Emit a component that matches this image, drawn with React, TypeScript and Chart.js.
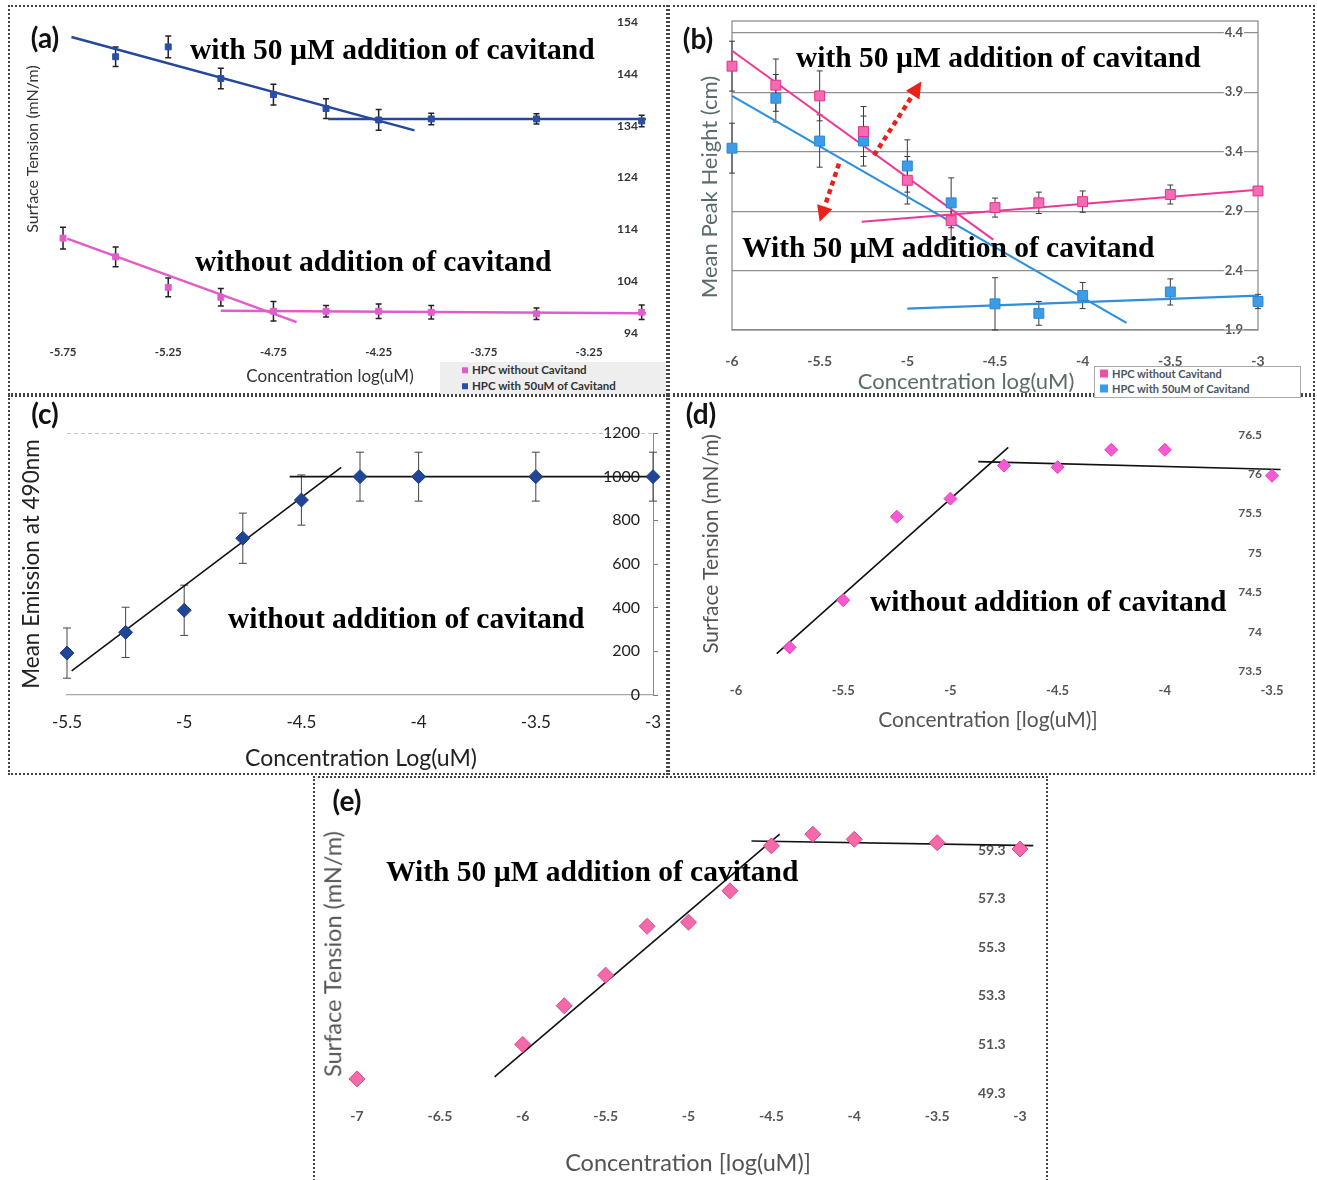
import React, { useEffect, useRef } from 'react';
import { Chart, registerables } from 'chart.js';

Chart.register(...registerables);

// ---------------- data: panel (a) ----------------
const aConcWithout = [-5.75, -5.5, -5.25, -5, -4.75, -4.5, -4.25, -4, -3.5, -3];
const aTensionWithout = [112.3, 108.7, 102.8, 100.9, 98.2, 98.2, 98.2, 98.0, 97.7, 98.0];
const aErrWithout = [2.1, 1.9, 1.8, 1.7, 1.9, 1.1, 1.4, 1.3, 1.1, 1.4];
const aConcWith = [-5.5, -5.25, -5, -4.75, -4.5, -4.25, -4, -3.5, -3];
const aTensionWith = [147.3, 149.2, 143.1, 140.0, 137.3, 135.1, 135.3, 135.3, 134.9];
const aErrWith = [1.9, 2.1, 2.0, 2.0, 1.9, 2.0, 1.1, 1.0, 1.1];
const aFitWithoutSlopeX = [-5.73, -4.64];
const aFitWithoutSlopeY = [112.2, 96.1];
const aFitWithoutFlatX = [-5.0, -2.98];
const aFitWithoutFlatY = [98.3, 97.8];
const aFitWithSlopeX = [-5.71, -4.08];
const aFitWithSlopeY = [151.1, 133.1];
const aFitWithFlatX = [-4.49, -2.98];
const aFitWithFlatY = [135.3, 135.3];
const aXTicks = [-5.75, -5.25, -4.75, -4.25, -3.75, -3.25];
const aYTicks = [94, 104, 114, 124, 134, 144, 154];

// ---------------- data: panel (b) ----------------
const bConc = [-6, -5.75, -5.5, -5.25, -5, -4.75, -4.5, -4.25, -4, -3.5, -3];
const bHeightWithout = [4.12, 3.96, 3.87, 3.57, 3.16, 2.82, 2.93, 2.97, 2.98, 3.04, 3.07];
const bErrWithout = [0.21, 0.22, 0.21, 0.21, 0.2, 0.16, 0.08, 0.09, 0.09, 0.08, 0.03];
const bHeightWith = [3.43, 3.85, 3.49, 3.49, 3.28, 2.97, 2.12, 2.04, 2.19, 2.22, 2.14];
const bErrWith = [0.21, 0.2, 0.22, 0.21, 0.22, 0.21, 0.22, 0.1, 0.11, 0.11, 0.06];
const bFitWithoutSlopeX = [-6, -4.51];
const bFitWithoutSlopeY = [4.25, 2.66];
const bFitWithoutFlatX = [-5.26, -3.0];
const bFitWithoutFlatY = [2.81, 3.08];
const bFitWithSlopeX = [-6, -3.75];
const bFitWithSlopeY = [3.87, 1.96];
const bFitWithFlatX = [-5, -3];
const bFitWithFlatY = [2.08, 2.19];
const bArrowTailX = [-5.19, -5.39];
const bArrowTailY = [3.37, 3.3];
const bArrowHeadX = [-4.92, -5.5];
const bArrowHeadY = [3.99, 2.81];
const bXTicks = [-6, -5.5, -5, -4.5, -4, -3.5, -3];
const bYTicks = [1.9, 2.4, 2.9, 3.4, 3.9, 4.4];

// ---------------- data: panel (c) ----------------
const cConc = [-5.5, -5.25, -5, -4.75, -4.5, -4.25, -4, -3.5, -3];
const cEmission = [192, 287, 388, 718, 893, 1000, 1000, 1000, 1000];
const cErr = [115, 115, 115, 115, 115, 112, 112, 112, 112];
const cFitSlopeX = [-5.48, -4.33];
const cFitSlopeY = [110, 1043];
const cFitFlatX = [-4.55, -3];
const cFitFlatY = [1000, 1000];
const cXTicks = [-5.5, -5, -4.5, -4, -3.5, -3];
const cYTicks = [0, 200, 400, 600, 800, 1000, 1200];

// ---------------- data: panel (d) ----------------
const dConc = [-5.75, -5.5, -5.25, -5, -4.75, -4.5, -4.25, -4, -3.5];
const dTension = [73.8, 74.4, 75.46, 75.69, 76.11, 76.09, 76.31, 76.31, 75.98];
const dFitSlopeX = [-5.81, -4.73];
const dFitSlopeY = [73.72, 76.34];
const dFitFlatX = [-4.87, -3.46];
const dFitFlatY = [76.16, 76.06];
const dXTicks = [-6, -5.5, -5, -4.5, -4, -3.5];
const dYTicks = [73.5, 74, 74.5, 75, 75.5, 76, 76.5];

// ---------------- data: panel (e) ----------------
const eConc = [-7, -6, -5.75, -5.5, -5.25, -5, -4.75, -4.5, -4.25, -4, -3.5, -3];
const eTension = [49.88, 51.3, 52.89, 54.15, 56.16, 56.33, 57.62, 59.47, 59.95, 59.74, 59.6, 59.34];
const eFitSlopeX = [-6.17, -4.45];
const eFitSlopeY = [49.96, 59.95];
const eFitFlatX = [-4.62, -2.92];
const eFitFlatY = [59.67, 59.48];
const eXTicks = [-7, -6.5, -6, -5.5, -5, -4.5, -4, -3.5, -3];
const eYTicks = [49.3, 51.3, 53.3, 55.3, 57.3, 59.3];

// ---------------- helpers ----------------
const SANS = 'Lato';
const SERIF = '"Liberation Serif", "Times New Roman", serif';
const X_BAND = 40; // fixed height of each x-axis band (labels live inside it)

const pts = (xs: number[], ys: number[]) => xs.map((x, i) => ({ x, y: ys[i] }));
const fixFit = (s: any) => {
  if (s.isHorizontal()) s.height = X_BAND;
  else s.width = 0;
  s.paddingLeft = 0;
  s.paddingRight = 0;
  s.paddingTop = 0;
  s.paddingBottom = 0;
};
const setTicks = (vals: number[]) => (s: any) => {
  s.ticks = vals.map((v) => ({ value: v }));
};
const fmt = (v: any) => String(v);

const fitLine = (xs: number[], ys: number[], color: string, width: number) => ({
  data: pts(xs, ys),
  showLine: true,
  borderColor: color,
  backgroundColor: color,
  borderWidth: width,
  pointRadius: 0,
  fill: false,
  clip: false as const,
});

type ErrSpec = { dataset: number; err: number[]; color: string; width: number; cap: number };
const errorBars = (specs: ErrSpec[]) => ({
  id: 'errorBars',
  beforeDatasetsDraw(chart: any) {
    const { ctx } = chart;
    const xs = chart.scales.x;
    const ys = chart.scales.y;
    specs.forEach((s) => {
      const data = chart.data.datasets[s.dataset].data as { x: number; y: number }[];
      ctx.save();
      ctx.strokeStyle = s.color;
      ctx.lineWidth = s.width;
      data.forEach((p, i) => {
        const e = s.err[i];
        if (!e) return;
        const px = xs.getPixelForValue(p.x);
        const t = ys.getPixelForValue(p.y + e);
        const b = ys.getPixelForValue(p.y - e);
        ctx.beginPath();
        ctx.moveTo(px, t);
        ctx.lineTo(px, b);
        ctx.moveTo(px - s.cap, t);
        ctx.lineTo(px + s.cap, t);
        ctx.moveTo(px - s.cap, b);
        ctx.lineTo(px + s.cap, b);
        ctx.stroke();
      });
      ctx.restore();
    });
  },
});

const framePlugin = {
  id: 'frame',
  beforeDatasetsDraw(chart: any) {
    const { ctx, chartArea: a } = chart;
    ctx.save();
    ctx.strokeStyle = '#858585';
    ctx.lineWidth = 1.2;
    ctx.strokeRect(a.left, a.top, a.right - a.left, a.bottom - a.top);
    ctx.restore();
  },
};

const arrowPlugin = {
  id: 'arrows',
  afterDatasetsDraw(chart: any) {
    const { ctx } = chart;
    const xs = chart.scales.x;
    const ys = chart.scales.y;
    bArrowTailX.forEach((_, i) => {
      const x1 = xs.getPixelForValue(bArrowTailX[i]);
      const y1 = ys.getPixelForValue(bArrowTailY[i]);
      const x2 = xs.getPixelForValue(bArrowHeadX[i]);
      const y2 = ys.getPixelForValue(bArrowHeadY[i]);
      const ang = Math.atan2(y2 - y1, x2 - x1);
      const head = 16;
      const half = 8;
      const bx = x2 - head * Math.cos(ang);
      const by = y2 - head * Math.sin(ang);
      ctx.save();
      ctx.strokeStyle = '#e8211c';
      ctx.fillStyle = '#e8211c';
      ctx.lineWidth = 4.5;
      ctx.setLineDash([5, 4]);
      ctx.beginPath();
      ctx.moveTo(x1, y1);
      ctx.lineTo(bx, by);
      ctx.stroke();
      ctx.setLineDash([]);
      ctx.beginPath();
      ctx.moveTo(x2, y2);
      ctx.lineTo(bx + half * Math.sin(ang), by - half * Math.cos(ang));
      ctx.lineTo(bx - half * Math.sin(ang), by + half * Math.cos(ang));
      ctx.closePath();
      ctx.fill();
      ctx.restore();
    });
  },
};

// padding.bottom given as the full distance from plot bottom to canvas bottom
const baseOptions = (padding: any, scales: any) => ({
  animation: false as const,
  responsive: false,
  events: [],
  layout: { padding: { ...padding, bottom: padding.bottom - X_BAND } },
  plugins: { legend: { display: false }, tooltip: { enabled: false } },
  scales,
});

const xAxis = (min: number, max: number, ticks: number[], pad: number, size: number, color: string, weight: string) => ({
  type: 'linear',
  min,
  max,
  afterBuildTicks: setTicks(ticks),
  afterFit: fixFit,
  grid: { display: false, drawTicks: false },
  border: { display: false },
  ticks: { autoSkip: false, maxRotation: 0, minRotation: 0, padding: pad, color, font: { family: SANS, size, weight }, callback: fmt },
});

const yAxisRight = (min: number, max: number, ticks: number[], pad: number, size: number, color: string, weight: string) => ({
  type: 'linear',
  position: 'right',
  min,
  max,
  afterBuildTicks: setTicks(ticks),
  afterFit: fixFit,
  grid: { display: false, drawTicks: false },
  border: { display: false },
  ticks: { mirror: true, autoSkip: false, padding: pad, color, font: { family: SANS, size, weight }, callback: fmt },
});

// ---------------- chart configs ----------------
const PINK_A = '#e05ccb';
const BLUE_A = '#2a4ea6';

const buildA = () => ({
  type: 'scatter',
  data: {
    datasets: [
      { label: 'HPC without Cavitand', data: pts(aConcWithout, aTensionWithout), pointStyle: 'rect', pointRadius: 4.2, backgroundColor: PINK_A, borderColor: PINK_A, clip: false },
      { label: 'HPC with 50uM of Cavitand', data: pts(aConcWith, aTensionWith), pointStyle: 'rect', pointRadius: 4.2, backgroundColor: BLUE_A, borderColor: BLUE_A, clip: false },
      fitLine(aFitWithoutSlopeX, aFitWithoutSlopeY, PINK_A, 2.5),
      fitLine(aFitWithoutFlatX, aFitWithoutFlatY, PINK_A, 2.5),
      fitLine(aFitWithSlopeX, aFitWithSlopeY, '#25479c', 2.5),
      fitLine(aFitWithFlatX, aFitWithFlatY, '#25479c', 2.5),
    ],
  },
  options: baseOptions(
    { left: 42.5, right: 20, top: 14, bottom: 62 },
    {
      x: xAxis(-5.8, -2.97, aXTicks, 12, 11.5, '#333', 'bold'),
      y: yAxisRight(94, 154, aYTicks, -10, 12, '#333', 'bold'),
    }
  ),
  plugins: [
    errorBars([
      { dataset: 0, err: aErrWithout, color: '#222', width: 1.5, cap: 3 },
      { dataset: 1, err: aErrWith, color: '#222', width: 1.5, cap: 3 },
    ]),
  ],
});

const PINK_B = '#ee3799';
const BLUE_B = '#2f8fdd';

const buildB = () => {
  const y: any = yAxisRight(1.9, 4.5, bYTicks, -15, 13, '#555', 'bold');
  y.grid = { display: true, drawTicks: false, color: '#8f8f8f', lineWidth: 1.2 };
  y.ticks.showLabelBackdrop = true;
  y.ticks.backdropColor = '#ffffff';
  y.ticks.backdropPadding = 1;
  return {
    type: 'scatter',
    data: {
      datasets: [
        { label: 'HPC without Cavitand', data: pts(bConc, bHeightWithout), pointStyle: 'rect', pointRadius: 7, backgroundColor: '#f46bb3', borderColor: '#e62f8c', borderWidth: 1, clip: false },
        { label: 'HPC with 50uM of Cavitand', data: pts(bConc, bHeightWith), pointStyle: 'rect', pointRadius: 7, backgroundColor: '#3d9ce6', borderColor: '#2a86d2', borderWidth: 1, clip: false },
        fitLine(bFitWithoutSlopeX, bFitWithoutSlopeY, PINK_B, 2),
        fitLine(bFitWithoutFlatX, bFitWithoutFlatY, PINK_B, 2),
        fitLine(bFitWithSlopeX, bFitWithSlopeY, BLUE_B, 2.2),
        fitLine(bFitWithFlatX, bFitWithFlatY, BLUE_B, 2.2),
      ],
    },
    options: baseOptions(
      { left: 64, right: 57, top: 13, bottom: 65 },
      { x: xAxis(-6, -3, bXTicks, 23, 14, '#555', 'bold'), y }
    ),
    plugins: [
      framePlugin,
      errorBars([
        { dataset: 0, err: bErrWithout, color: '#3a3a3a', width: 1, cap: 3 },
        { dataset: 1, err: bErrWith, color: '#3a3a3a', width: 1, cap: 3 },
      ]),
      arrowPlugin,
    ],
  };
};

const buildC = () => {
  const x: any = xAxis(-5.5, -3, cXTicks, 17, 17, '#222', 'normal');
  x.border = { display: true, color: '#a8a8a8', width: 1.2 };
  const y: any = yAxisRight(0, 1200, cYTicks, -13, 16, '#222', 'normal');
  y.grid = {
    display: true,
    drawTicks: true,
    tickLength: 5,
    tickColor: '#777',
    color: (c: any) => (c.tick && c.tick.value === 1200 ? '#c4c4c4' : 'rgba(0,0,0,0)'),
  };
  y.border = { display: true, color: '#8a8a8a', width: 1, dash: [4, 3] };
  return {
    type: 'scatter',
    data: {
      datasets: [
        { label: 'Mean Emission', data: pts(cConc, cEmission), pointStyle: 'rectRot', pointRadius: 7, backgroundColor: '#1f4597', borderColor: '#1a3c86', borderWidth: 1, clip: false },
        fitLine(cFitSlopeX, cFitSlopeY, '#111', 1.6),
        fitLine(cFitFlatX, cFitFlatY, '#111', 1.6),
      ],
    },
    options: baseOptions({ left: 57, right: 15, top: 38, bottom: 80 }, { x, y }),
    plugins: [errorBars([{ dataset: 0, err: cErr, color: '#444', width: 1, cap: 4 }])],
  };
};

const buildD = () => ({
  type: 'scatter',
  data: {
    datasets: [
      { label: 'Surface Tension', data: pts(dConc, dTension), pointStyle: 'rectRot', pointRadius: 6.5, backgroundColor: '#f55ad2', borderColor: '#ea3fc3', borderWidth: 1, clip: false },
      fitLine(dFitSlopeX, dFitSlopeY, '#111', 1.6),
      fitLine(dFitFlatX, dFitFlatY, '#111', 1.6),
    ],
  },
  options: baseOptions(
    { left: 68, right: 43, top: 32, bottom: 104 },
    {
      x: xAxis(-6, -3.5, dXTicks, 12, 13, '#555', 'bold'),
      y: yAxisRight(73.5, 76.6, dYTicks, -10, 12, '#555', 'bold'),
    }
  ),
});

const buildE = () => ({
  type: 'scatter',
  data: {
    datasets: [
      { label: 'Surface Tension', data: pts(eConc, eTension), pointStyle: 'rectRot', pointRadius: 8, backgroundColor: '#f36aa9', borderColor: '#e4428c', borderWidth: 1, clip: false },
      fitLine(eFitSlopeX, eFitSlopeY, '#111', 1.6),
      fitLine(eFitFlatX, eFitFlatY, '#111', 1.6),
    ],
  },
  options: baseOptions(
    { left: 44, right: 11.4, top: 47.7, bottom: 87 },
    {
      x: xAxis(-7, -2.9, eXTicks, 15, 14, '#555', 'bold'),
      y: yAxisRight(49.3, 60.3, eYTicks, -31, 14, '#555', 'bold'),
    }
  ),
});

// ---------------- components ----------------
function ChartBox({ left, top, width, height, build }: { left: number; top: number; width: number; height: number; build: () => any }) {
  const ref = useRef<HTMLCanvasElement>(null);
  useEffect(() => {
    const chart = new Chart(ref.current as HTMLCanvasElement, build());
    return () => chart.destroy();
  }, []);
  return <canvas ref={ref} width={width} height={height} style={{ position: 'absolute', left, top, width, height }} />;
}

type Label = { text: string; x: number; y: number; size: number; family: string; weight?: number; color?: string; rotate?: boolean; align?: 'left' | 'center' };

const labels: Label[] = [
  // panel letters
  { text: '(a)', x: 45, y: 37, size: 28, family: SANS, weight: 700, color: '#111' },
  { text: '(b)', x: 698, y: 38, size: 28, family: SANS, weight: 700, color: '#111' },
  { text: '(c)', x: 45, y: 413, size: 28, family: SANS, weight: 700, color: '#111' },
  { text: '(d)', x: 701, y: 413, size: 28, family: SANS, weight: 700, color: '#111' },
  { text: '(e)', x: 347, y: 800, size: 28, family: SANS, weight: 700, color: '#111' },
  // annotations
  { text: 'with 50 µM addition of cavitand', x: 190, y: 50, size: 29.5, family: SERIF, weight: 700, color: '#000', align: 'left' },
  { text: 'without addition of cavitand', x: 195, y: 262, size: 29.5, family: SERIF, weight: 700, color: '#000', align: 'left' },
  { text: 'with 50 µM addition of cavitand', x: 796, y: 58, size: 29.5, family: SERIF, weight: 700, color: '#000', align: 'left' },
  { text: 'With 50 µM addition of cavitand', x: 742, y: 248, size: 29.5, family: SERIF, weight: 700, color: '#000', align: 'left' },
  { text: 'without addition of cavitand', x: 228, y: 619, size: 29.5, family: SERIF, weight: 700, color: '#000', align: 'left' },
  { text: 'without addition of cavitand', x: 870, y: 602, size: 29.5, family: SERIF, weight: 700, color: '#000', align: 'left' },
  { text: 'With 50 µM addition of cavitand', x: 386, y: 872, size: 29.5, family: SERIF, weight: 700, color: '#000', align: 'left' },
  // axis titles
  { text: 'Concentration log(uM)', x: 330, y: 375, size: 17, family: SANS, color: '#333' },
  { text: 'Surface Tension (mN/m)', x: 32, y: 149, size: 16, family: SANS, color: '#333', rotate: true },
  { text: 'Concentration log(uM)', x: 966, y: 381, size: 22, family: SANS, color: '#5b6b6b' },
  { text: 'Mean Peak Height (cm)', x: 709, y: 187, size: 22, family: SANS, color: '#5b6b6b', rotate: true },
  { text: 'Concentration Log(uM)', x: 361, y: 757, size: 23, family: SANS, color: '#222' },
  { text: 'Mean Emission at 490nm', x: 31, y: 564, size: 22.5, family: SANS, color: '#222', rotate: true },
  { text: 'Concentration [log(uM)]', x: 988, y: 718, size: 21, family: SANS, color: '#555' },
  { text: 'Surface Tension (mN/m)', x: 709, y: 544, size: 21, family: SANS, color: '#555', rotate: true },
  { text: 'Concentration [log(uM)]', x: 688, y: 1163, size: 23.5, family: SANS, color: '#555' },
  { text: 'Surface Tension (mN/m)', x: 333, y: 954, size: 23.5, family: SANS, color: '#555', rotate: true },
];

const panels = [
  { left: 8, top: 5, width: 660, height: 390 },
  { left: 668, top: 5, width: 647, height: 390 },
  { left: 8, top: 395, width: 660, height: 380 },
  { left: 668, top: 395, width: 647, height: 380 },
  { left: 313, top: 776, width: 735, height: 420 },
];

function Legend({ left, top, width, height, bg, border, color, size, rows }: any) {
  return (
    <div style={{ position: 'absolute', left, top, width, height, background: bg, border, boxSizing: 'border-box' }}>
      {rows.map((r: any, i: number) => (
        <div key={i} style={{ position: 'absolute', left: r.dx, top: r.dy, transform: 'translateY(-50%)', display: 'flex', alignItems: 'center', whiteSpace: 'nowrap', fontFamily: SANS, fontWeight: 700, fontSize: size, color, lineHeight: 1 }}>
          <span style={{ display: 'inline-block', width: r.sq, height: r.sq, background: r.c, marginRight: 4 }} />
          {r.t}
        </div>
      ))}
    </div>
  );
}

export default function App() {
  return (
    <div style={{ position: 'absolute', left: 0, top: 0, width: 1317, height: 1180, background: '#fff', overflow: 'hidden' }}>
      {panels.map((p, i) => (
        <div key={i} style={{ position: 'absolute', left: p.left, top: p.top, width: p.width, height: p.height, border: '2px dotted #444', boxSizing: 'border-box' }} />
      ))}
      <ChartBox left={10} top={8} width={658} height={387} build={buildA} />
      <ChartBox left={668} top={8} width={647} height={387} build={buildB} />
      <ChartBox left={10} top={395} width={658} height={380} build={buildC} />
      <ChartBox left={668} top={395} width={647} height={380} build={buildD} />
      <ChartBox left={313} top={778} width={735} height={402} build={buildE} />
      <Legend
        left={440} top={362} width={226} height={32} bg="#eeeeee" border="none" color="#333" size={11.5}
        rows={[
          { dx: 22, dy: 8, sq: 6, c: PINK_A, t: 'HPC without Cavitand' },
          { dx: 22, dy: 24, sq: 6, c: BLUE_A, t: 'HPC with 50uM of Cavitand' },
        ]}
      />
      <Legend
        left={1094} top={366} width={207} height={32} bg="#fff" border="1px solid #aaa" color="#4a5560" size={11}
        rows={[
          { dx: 5, dy: 6, sq: 8, c: '#ef4fa3', t: 'HPC without Cavitand' },
          { dx: 5, dy: 21, sq: 8, c: '#3a9be6', t: 'HPC with 50uM of Cavitand' },
        ]}
      />
      {labels.map((l, i) => (
        <div
          key={i}
          style={{
            position: 'absolute',
            left: l.x,
            top: l.y,
            transform: `translate(${l.align === 'left' ? '0' : '-50%'}, -50%)${l.rotate ? ' rotate(-90deg)' : ''}`,
            whiteSpace: 'nowrap',
            fontFamily: l.family,
            fontSize: l.size,
            fontWeight: l.weight ?? 400,
            color: l.color,
            lineHeight: 1,
          }}
        >
          {l.text}
        </div>
      ))}
    </div>
  );
}
